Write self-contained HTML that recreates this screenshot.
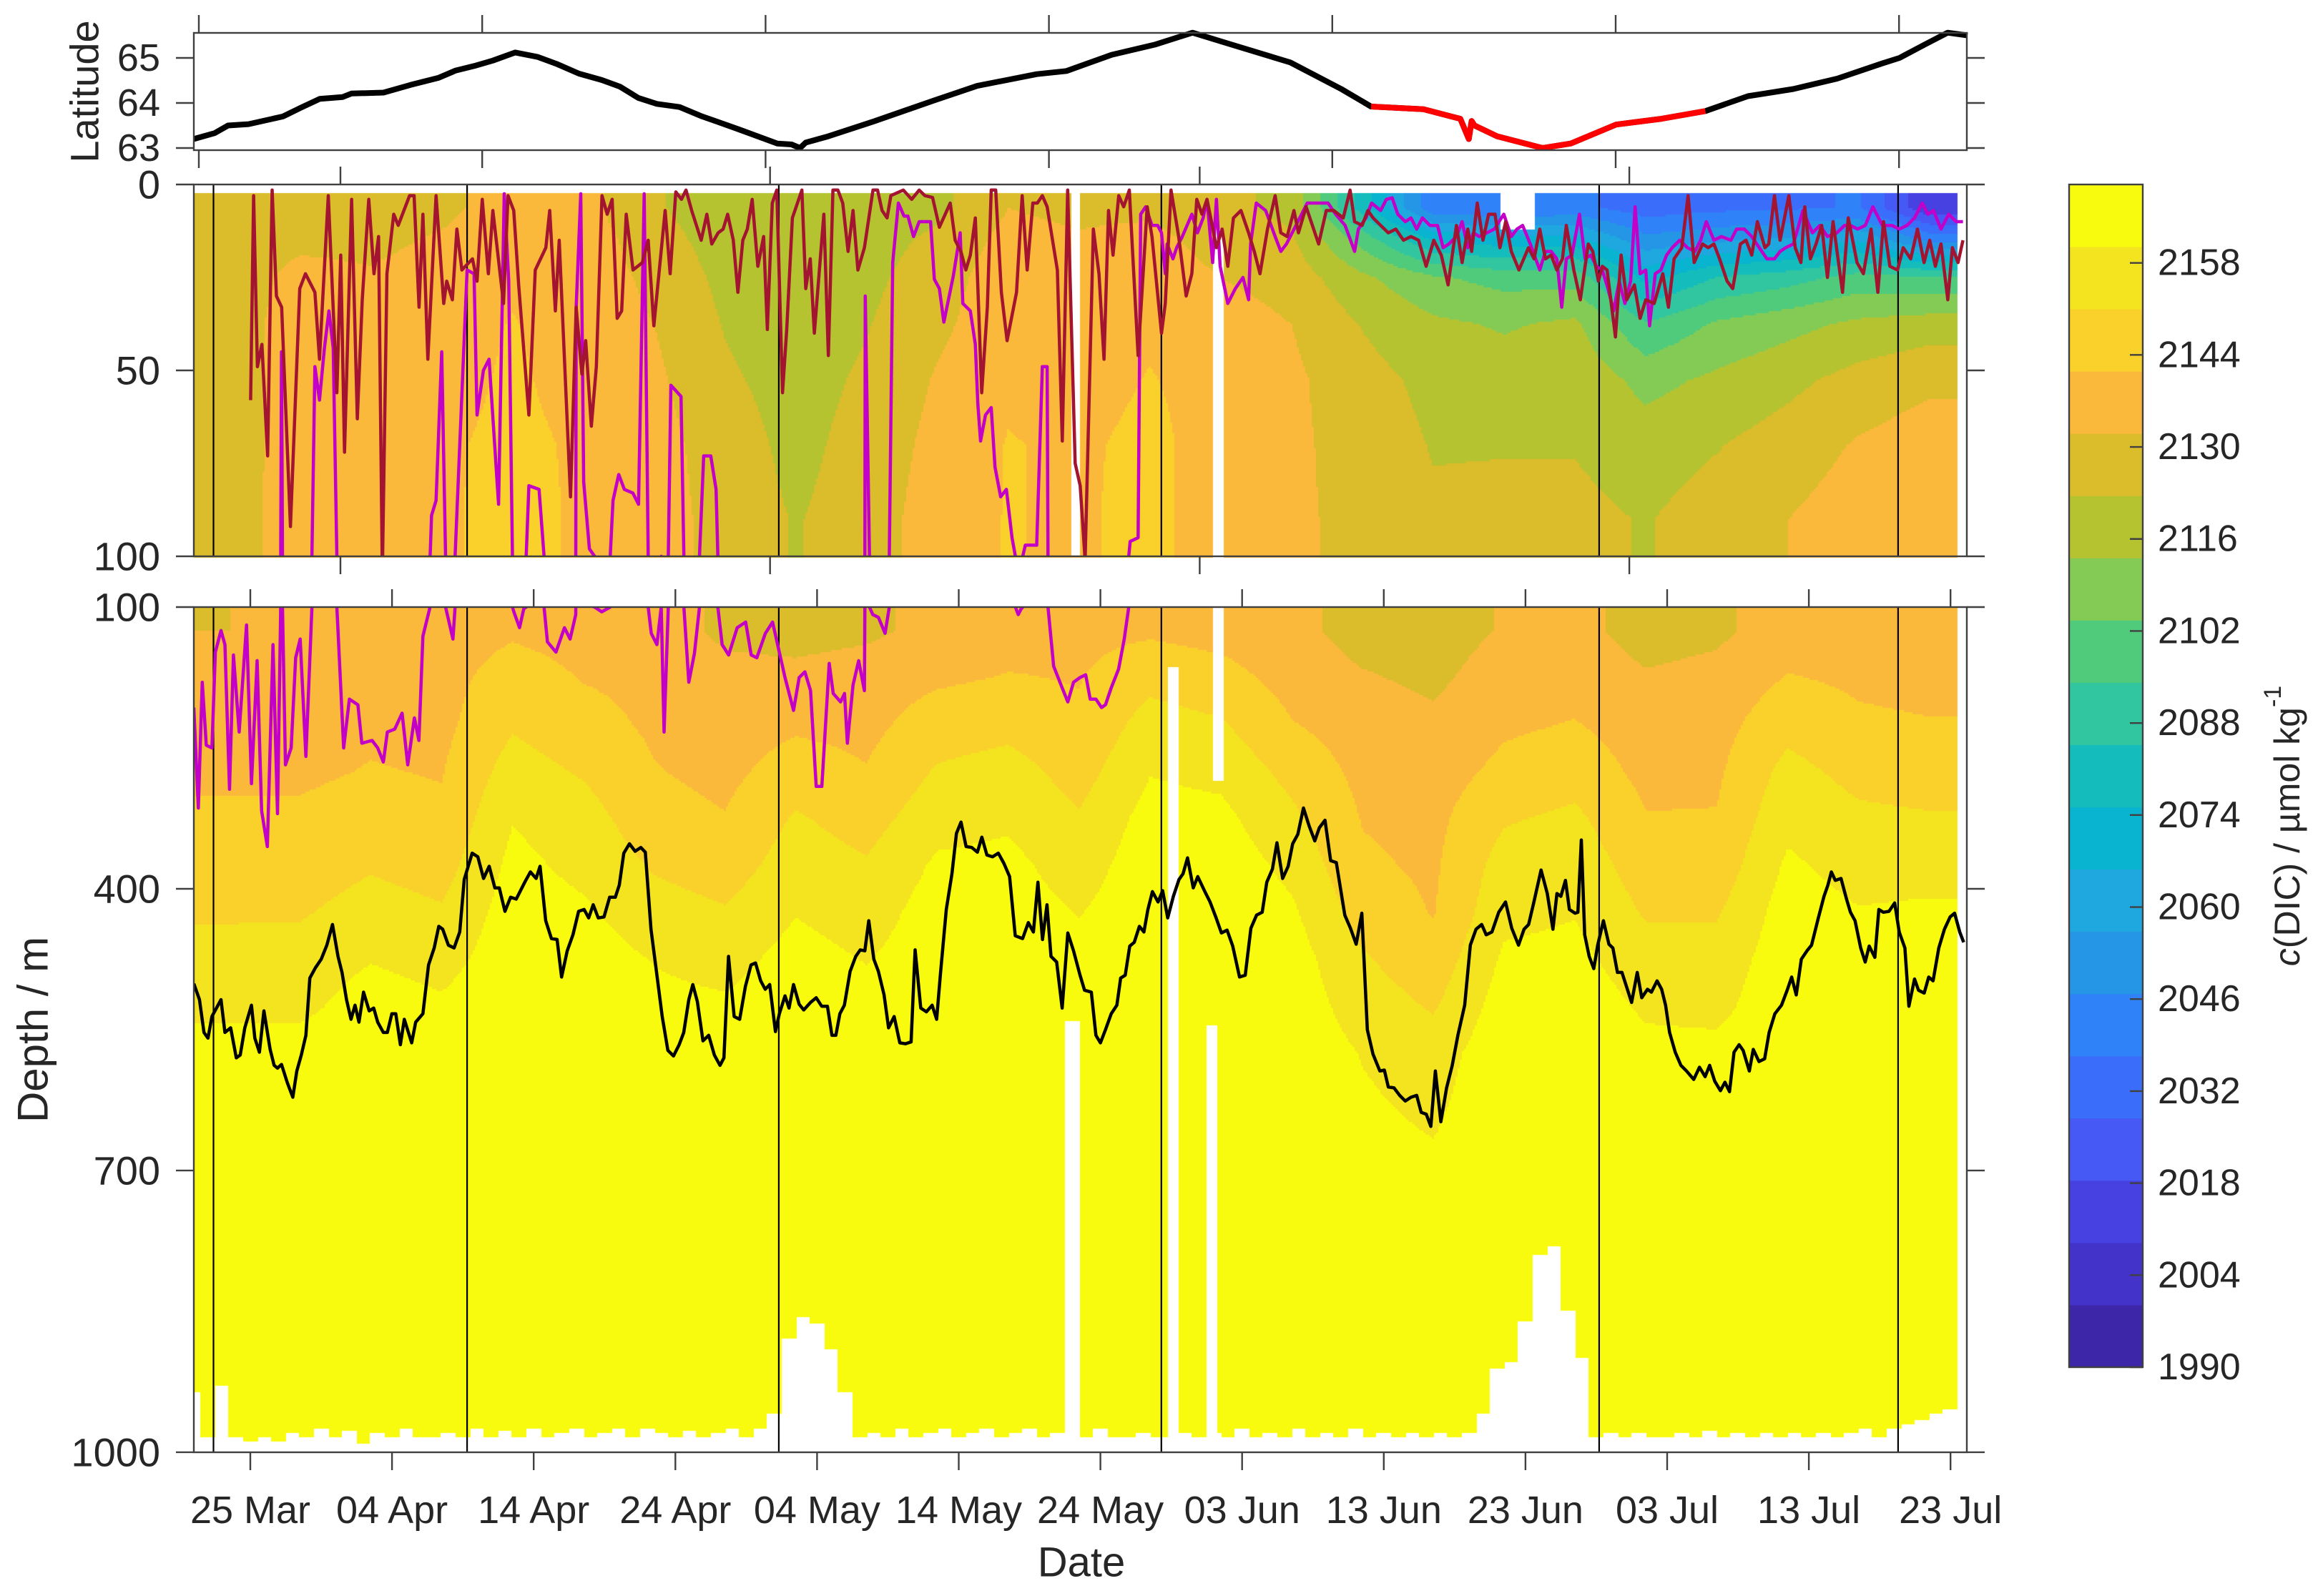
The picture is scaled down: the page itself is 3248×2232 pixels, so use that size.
<!DOCTYPE html>
<html><head><meta charset="utf-8">
<style>
html,body{margin:0;padding:0;background:#fff;}
#wrap{position:relative;width:3248px;height:2232px;overflow:hidden;}
canvas,svg{position:absolute;left:0;top:0;}
text{font-family:"Liberation Sans",Arial,sans-serif;fill:#262626;}
</style></head>
<body>
<div id="wrap">
<canvas id="heat" width="3248" height="2232"></canvas>
<svg id="ov" width="3248" height="2232" xmlns="http://www.w3.org/2000/svg"></svg>
</div>
<script>
// ---------------- DATA ----------------
const dateTickDays=[0,10,20,30,40,50,60,70,80,90,100,110,120];
const dateTickLabels=['25 Mar','04 Apr','14 Apr','24 Apr','04 May','14 May','24 May','03 Jun','13 Jun','23 Jun','03 Jul','13 Jul','23 Jul'];
const latTicks=[63,64,65];
const midDepthTicks=[0,50,100];
const botDepthTicks=[100,400,700,1000];
const cbarTicks=[1990,2004,2018,2032,2046,2060,2074,2088,2102,2116,2130,2144,2158];
const sectionDays=[-2.6,15.3,37.3,64.3,95.2,116.3];

const colStart=-4, colWidth=5; // 25 columns of 5 days
const midRowEdges=[2.5,10,20,30,45,60,80,100];
const midVals=[
[2127,2127,2127,2127,2127,2127,2127],
[2127,2130,2135,2137,2137,2137,2138],
[2128,2130,2133,2135,2137,2137,2137],
[2130,2133,2136,2137,2138,2140,2140],
[2136,2138,2140,2142,2143,2144,2145],
[2135,2137,2137,2137,2138,2140,2140],
[2124,2127,2130,2132,2134,2136,2137],
[2116,2118,2120,2122,2124,2127,2128],
[2114,2116,2118,2118,2119,2120,2122],
[2115,2118,2120,2122,2124,2126,2127],
[2120,2125,2128,2130,2133,2135,2137],
[2132,2135,2137,2138,2140,2142,2142],
[2130,2133,2136,2137,2138,2140,2140],
[2130,2135,2138,2140,2142,2144,2145],
[2125,2128,2132,2137,2138,2137,2135],
[2120,2124,2128,2132,2134,2134,2134],
[2080,2100,2115,2122,2126,2128,2129],
[2040,2075,2105,2115,2120,2122,2124],
[2038,2070,2100,2112,2118,2122,2125],
[2040,2070,2100,2115,2120,2122,2125],
[2032,2050,2072,2095,2110,2118,2122],
[2035,2055,2085,2105,2115,2122,2127],
[2036,2058,2090,2110,2120,2127,2132],
[2038,2065,2098,2115,2126,2133,2137],
[2010,2045,2095,2118,2130,2137,2137]];
const botRowEdges=[100,150,200,250,300,350,400,450,500,550,600,1000];
const botVals=[
[2132,2136,2138,2140,2143,2146,2150,2154,2158,2165,2167],
[2135,2137,2138,2140,2143,2146,2150,2155,2158,2165,2167],
[2137,2138,2140,2142,2145,2150,2155,2160,2165,2166,2167],
[2137,2138,2139,2141,2143,2147,2152,2157,2162,2166,2167],
[2140,2146,2150,2155,2160,2163,2165,2166,2167,2167,2167],
[2138,2141,2145,2150,2155,2158,2162,2165,2166,2167,2167],
[2137,2139,2140,2142,2145,2150,2155,2160,2163,2166,2167],
[2130,2135,2137,2139,2142,2146,2152,2157,2162,2166,2167],
[2128,2135,2140,2146,2152,2156,2160,2164,2166,2167,2167],
[2130,2137,2139,2142,2147,2152,2156,2160,2164,2166,2167],
[2135,2140,2146,2152,2157,2162,2165,2166,2167,2167,2167],
[2138,2142,2148,2155,2159,2163,2165,2166,2167,2167,2167],
[2139,2141,2143,2147,2152,2156,2160,2163,2166,2167,2167],
[2140,2148,2155,2160,2164,2166,2167,2167,2167,2167,2167],
[2138,2145,2152,2158,2163,2166,2167,2167,2167,2167,2167],
[2135,2138,2142,2148,2153,2158,2162,2165,2166,2167,2167],
[2128,2133,2137,2139,2141,2143,2147,2152,2156,2160,2167],
[2127,2130,2134,2137,2139,2140,2141,2145,2150,2156,2167],
[2133,2137,2140,2144,2150,2155,2158,2162,2165,2167,2167],
[2135,2138,2142,2147,2153,2157,2160,2163,2166,2167,2167],
[2128,2133,2137,2139,2142,2146,2150,2155,2159,2163,2167],
[2130,2135,2138,2140,2142,2145,2150,2155,2158,2163,2167],
[2137,2142,2148,2154,2158,2162,2165,2166,2167,2167,2167],
[2138,2140,2143,2148,2153,2157,2161,2164,2166,2167,2167],
[2137,2139,2142,2146,2152,2157,2162,2165,2166,2167,2167]];
const dataEndDay=120.45;
const covStartDay=-4;
const coverageDepth=[935,985,930,985,988,985,988,980,985,975,985,978,990,980,985,975,985,985,980,985,975,985,978,985,975,985,980,975,985,980,975,985,975,980,985,978,985,980,975,985,975,960,880,855,862,890,935,985,980,985,975,985,980,975,985,980,975,985,980,975,985,980,988,985,975,985,985,980,985,985,980,985,980,985,975,985,980,985,975,985,980,985,975,985,980,985,980,985,980,985,980,960,910,905,860,790,780,850,900,985,980,985,980,985,985,980,985,978,985,980,985,980,985,980,985,980,985,980,975,985,975,970,965,960,955];
const gapStart=[57.9,57.5,64.7,67.9,67.5,88.3];
const gapEnd=[58.6,58.56,65.5,68.7,68.3,90.7];
const gapTop=[0,540,165,12,545,0];
const gapBottom=[100,1000,1000,284,1000,12];

const latDays=[-3.99,-2.52,-1.57,-0.12,2.3,3.6,4.9,6.5,7.14,9.4,11.3,13.3,14.5,15.8,17.1,18.7,20.3,21.6,23.2,24.8,26.1,27.4,28.7,30.3,31.9,33.0,34.6,37.2,38.2,38.8,39.2,40.8,44.0,48.2,51.3,55.5,57.6,60.8,63.9,66.5,69.2,73.4,77.0,79.1,82.8,85.4,86.0,86.2,86.4,88.0,91.2,93.2,96.4,99.6,102.7,105.7,108.9,112.0,115.1,116.4,118.2,119.8,121.2];
const latVals=[63.2,63.33,63.5,63.53,63.7,63.9,64.09,64.13,64.21,64.23,64.4,64.56,64.72,64.82,64.94,65.12,65.02,64.87,64.65,64.51,64.36,64.11,63.98,63.91,63.7,63.58,63.4,63.1,63.08,63.0,63.12,63.26,63.59,64.05,64.38,64.64,64.71,65.07,65.3,65.56,65.3,64.9,64.31,63.92,63.86,63.65,63.2,63.6,63.5,63.26,63.0,63.1,63.52,63.65,63.82,64.15,64.31,64.54,64.87,65.0,65.3,65.56,65.5];
const redTrackStart=79.1, redTrackEnd=105.6;

const redDays=[0.02,0.23,0.5,0.82,1.22,1.54,1.84,2.21,2.83,3.49,3.89,4.56,4.88,5.5,6.11,6.38,6.65,7.15,7.55,7.9,8.36,8.73,9.05,9.32,9.64,10.12,10.44,11.24,11.56,11.91,12.18,12.53,13.11,13.65,13.86,14.26,14.58,14.93,15.68,16.0,16.37,16.8,17.12,17.87,18.19,18.59,18.94,19.66,20.11,20.86,21.13,21.53,21.8,22.6,23.0,23.4,23.67,24.07,24.42,24.82,25.19,25.54,25.89,26.21,26.53,27.01,27.67,28.08,28.48,29.28,29.63,30.03,30.43,30.75,31.15,31.82,32.22,32.57,33.02,33.37,33.69,34.09,34.41,34.76,35.08,35.42,35.82,36.23,36.49,36.84,37.16,37.56,
37.86,38.26,38.93,39.2,39.52,39.81,40.48,40.8,41.12,41.47,41.81,42.19,42.54,42.88,43.34,43.95,44.27,44.59,44.94,45.21,46.09,46.68,47.21,47.61,48.15,48.63,49.4,49.75,50.15,50.5,50.82,51.17,51.62,52.02,52.29,52.61,53.01,53.41,54.08,54.48,54.83,55.23,55.55,55.9,56.24,56.96,57.31,57.69,58.22,58.57,58.92,59.5,59.9,60.25,60.57,60.89,61.29,61.64,62.04,62.66,63.3,63.64,64.31,64.58,64.98,65.52,66.05,66.45,66.8,67.17,67.52,67.84,68.19,68.59,68.99,69.39,69.92,70.46,70.86,71.26,71.79,72.33,72.73,73.18,73.66,73.98,74.52,75.05,75.4,75.94,76.47,77.14,77.62,77.94,78.47,78.88,
79.25,79.78,80.32,80.85,81.39,81.92,82.46,82.99,83.53,84.06,84.54,85.13,85.53,85.93,86.2,86.6,87.0,87.4,87.85,88.2,88.6,89.0,89.54,90.21,90.61,91.01,91.41,91.81,92.21,92.61,92.88,93.41,93.87,94.43,94.75,95.15,95.42,95.76,96.35,96.75,97.15,97.69,98.09,98.49,99.08,99.69,100.09,100.49,101.03,101.48,101.91,102.5,102.9,103.3,103.7,104.23,104.63,105.17,105.57,105.97,106.37,106.9,107.17,107.57,107.97,108.59,109.04,109.44,109.71,110.11,110.51,110.91,111.31,111.71,112.38,112.78,113.4,113.85,114.39,114.87,115.27,115.72,116.26,116.66,117.19,117.67,118.13,118.53,118.93,119.33,119.81,120.13,120.53,120.88];
const redDepth=[58,3,49,43,73,1.5,30,33,92,28,24,29,47,3,56,19,72,4,63,31,4,24,14,105,24,8,11,3,3,33,8,47,3,32,26,31,12,23,20,26,4,24,7,32,3,7,27,62,23,17,7,34,15,84,33,51,42,65,49,3,8,4,36,34,8,23,21,15,38,7,24,2,4,1.5,7,15,8,16,13,12,8,15,29,15,12,4,22,14,39,5,1.5,56,
39,9,1.5,28,20,40,8,46,1.5,1.5,5,18,7,23,17,1.5,1.5,7,9,3,1.5,4,1.5,3,3.5,11.5,5,15,18,23,19,9,56,33,1.5,1.5,29,42,29,3,23,5,5,3,6,23,69,1.5,75,81,101,12,24,47,7,19,3,6,1.5,46,6,14,40,32,1.5,14,30,24,4,8,4,10,17,12,22,9,7,13,18,24,12,3,13,14,7,13,6,12,16,7,7,9,1.5,10,11,7,
9,11,13,12,15,14,15,22,15,19,27,11,21,12,18,5,15,8,8,17,10,18,23,17,20,12,20,19,23,20,11,23,31,16,18,26,22,23,41,19,31,27,36,31,32,24,33,20,17,3,21,16,17,16,20,26,28,16,15,19,10,17,16,3,15,3,17,21,6,20,16,11,25,10,29,9,21,24,12,29,10,22,23,17,20,12,21,15,22,16,31,17,21,15];

const magDays=[-3.99,-3.67,-3.39,-3.11,-2.71,-2.47,-2.07,-1.79,-1.47,-1.19,-0.79,-0.27,0.08,0.48,0.8,1.2,1.6,1.92,2.2,2.48,2.88,3.2,3.52,3.92,4.35,4.56,4.88,5.23,5.55,5.85,6.11,6.59,6.99,7.59,7.87,8.59,8.99,9.39,9.67,10.19,10.71,11.11,11.58,11.9,12.18,12.7,12.79,13.11,13.51,13.78,14.3,14.45,15.3,15.79,16.0,16.45,16.85,17.52,17.92,18.24,18.5,18.6,19.0,19.3,19.47,19.66,20.38,20.73,20.97,21.57,22.17,22.57,22.97,23.0,23.32,23.53,23.93,24.3,24.8,25.4,25.6,26.0,26.4,27.0,27.4,27.8,28.08,28.3,28.7,29.0,29.2,29.5,29.68,30.4,30.6,30.95,31.35,31.7,32.0,32.5,32.87,33.0,33.3,33.76,34.36,34.96,35.35,35.75,36.35,36.86,37.35,37.74,38.34,38.74,39.14,39.54,39.94,40.34,40.86,41.14,41.66,41.94,42.14,42.54,42.94,43.34,43.4,43.7,43.93,44.33,44.8,45.1,45.34,45.74,46.14,46.41,46.81,47.21,48.01,48.28,48.63,48.95,49.62,50.1,50.29,50.82,51.17,51.35,51.54,51.89,52.29,52.56,52.96,53.36,53.76,54.0,54.2,54.4,54.7,55.5,55.9,56.24,56.3,56.7,57.3,57.7,58.1,58.56,58.96,59.28,59.68,60.08,60.36,60.76,61.28,61.68,62.0,62.1,62.66,62.84,63.19,63.64,64.04,64.31,64.58,64.71,65.12,65.38,65.78,66.45,66.85,67.25,67.52,67.92,68.19,68.45,68.99,69.52,70.06,70.46,70.6,71.0,71.66,72.33,72.73,73.13,73.8,74.6,75.27,76.07,76.6,77.27,77.94,78.21,78.74,79.14,79.78,80.18,80.59,80.99,81.52,81.92,82.32,82.72,83.26,83.79,84.19,84.59,85.13,85.53,85.93,86.33,86.73,87.27,87.8,88.47,89.0,89.4,89.8,90.34,91.01,91.41,91.81,92.21,92.56,92.88,93.28,93.81,94.21,94.61,95.01,95.42,95.82,96.22,96.62,97.02,97.42,97.74,98.09,98.49,98.76,99.16,99.56,99.96,100.36,100.89,101.43,101.96,102.36,102.76,103.3,103.83,104.5,104.9,105.44,105.97,106.5,107.04,107.57,107.97,108.37,108.91,109.58,110.25,110.78,111.31,111.98,112.52,112.92,113.45,113.99,114.52,115.19,115.86,116.39,116.93,117.46,118.0,118.4,118.8,119.33,119.87,120.4,120.88];
const magDepth=[207,314,180,247,250,148,125,140,294,151,233,119,288,157,317,355,140,320,45,268,250,154,134,259,99,49,58,44,34,44,100,250,198,204,245,242,250,265,233,230,213,268,218,242,131,99,89,85,45,100,134,100,23,24,62,50,47,86,2.5,26,100,105,122,102,100,81,82,100,137,148,122,134,108,33,2.5,80,98,100,105,100,85,78,82,83,86,2.5,100,128,140,100,233,100,54,57,100,180,149,100,73,73,82,100,140,151,122,116,151,154,128,116,149,175,210,175,169,189,291,291,160,192,201,192,245,183,157,189,30,100,108,111,128,100,21,5,8.5,8.5,14,10,10,25.5,28,37,24.5,13,32,34,43,59,69,62,60,76,84,82,95,100,108,102,97,97,49,49,100,163,186,201,180,175,172,198,198,207,204,186,166,134,100,96,95,8,6,11,11,13,24,16,20,17,14,8,13,9,4,21,4,22,32,28,25,31,16,5,7,14,18,16,11,5,5,5,8,11,18,12,9,5,7,4,3.6,8,10,9,12,9,11,11,17,16,14,10,17,13,14,13,12,8,14,12,11,16,23,18,18,20,33,20,19,8,20,19,22,23,28,34,26,32,26,6,24,23,38,24,23,19,17,15,17,18,15,10,15,14,15,12,12,14,17,20,20,18,17,16,7,13,11,14,13,11,11,12,11,6,11,11,12,11,9,5,8,7,12,8,10,10];

const blkDays=[-3.99,-3.59,-3.27,-2.99,-2.71,-2.07,-1.79,-1.39,-0.99,-0.71,-0.39,0.08,0.32,0.64,0.96,1.4,1.68,1.92,2.2,2.6,3.0,3.28,3.6,3.92,4.2,4.6,5.0,5.4,5.8,6.19,6.47,6.79,7.11,7.39,7.67,7.99,8.39,8.71,8.99,9.39,9.67,9.99,10.27,10.59,10.87,11.39,11.67,12.18,12.58,12.98,13.3,13.58,13.98,14.38,14.78,15.1,15.66,16.06,16.46,16.86,17.26,17.57,17.97,18.37,18.77,19.37,19.77,20.17,20.45,20.85,21.25,21.65,21.97,22.37,22.77,23.17,23.56,23.88,24.2,24.56,24.96,25.36,25.76,26.04,26.36,26.76,27.16,27.56,27.88,28.28,28.67,29.07,29.47,29.87,30.27,30.59,30.95,31.23,31.55,31.95,32.35,32.75,33.15,33.43,33.75,34.15,34.54,34.94,35.34,35.66,36.02,36.34,36.66,37.06,37.34,37.74,38.02,38.34,38.74,39.06,39.54,39.94,40.33,40.73,41.05,41.33,41.61,41.93,42.33,42.73,43.05,43.37,43.65,44.01,44.33,44.73,45.05,45.44,45.84,46.24,46.64,46.92,47.32,47.72,48.12,48.44,48.72,49.12,49.52,49.84,50.16,50.52,50.92,51.32,51.63,51.99,52.39,52.79,53.19,53.59,53.99,54.51,54.91,55.27,55.59,55.91,56.23,56.51,56.91,57.3,57.7,58.1,58.56,58.88,59.36,59.68,60.0,60.36,60.76,61.16,61.43,61.75,62.07,62.39,62.75,63.07,63.35,63.67,64.07,64.39,64.75,65.15,65.55,65.83,66.15,66.55,66.87,67.34,67.74,68.14,68.54,68.94,69.34,69.82,70.22,70.62,71.02,71.42,71.74,72.14,72.46,72.86,73.25,73.57,73.93,74.33,74.73,75.13,75.45,75.85,76.25,76.65,77.25,77.65,78.05,78.45,78.84,79.24,79.72,80.04,80.32,80.72,81.12,81.52,81.92,82.32,82.64,83.0,83.32,83.64,84.03,84.43,84.83,85.23,85.71,86.11,86.51,86.91,87.23,87.63,88.11,88.59,89.03,89.51,89.9,90.22,90.58,91.1,91.54,91.94,92.22,92.5,92.82,93.1,93.5,93.7,93.94,94.18,94.5,94.82,95.1,95.5,95.89,96.17,96.49,96.81,97.13,97.49,97.89,98.21,98.61,98.89,99.29,99.61,99.89,100.17,100.57,100.97,101.37,101.88,102.28,102.68,103.0,103.36,103.76,104.08,104.4,104.72,105.08,105.36,105.8,106.08,106.48,106.88,107.2,107.6,108.07,108.47,108.79,109.11,109.47,109.87,110.19,110.67,111.07,111.35,111.59,111.87,112.27,112.66,112.94,113.26,113.66,113.98,114.26,114.66,114.94,115.26,115.66,116.06,116.38,116.78,117.06,117.46,117.74,118.14,118.46,118.77,119.17,119.57,119.97,120.29,120.65,120.93];
const blkDepth=[501,518,553,559,536,518,553,548,580,577,548,524,559,574,530,571,588,591,587,606,622,594,577,556,495,484,475,460,438,472,489,518,539,524,542,510,530,527,542,553,553,533,533,566,539,564,542,533,481,463,440,443,460,463,446,390,362,366,389,376,399,399,424,409,411,393,382,389,376,434,453,454,494,466,449,424,422,431,417,431,430,409,409,396,362,352,360,356,361,443,489,536,572,578,566,553,518,502,520,562,556,577,588,580,472,536,539,504,481,479,498,507,502,552,533,514,527,502,523,529,521,516,525,525,556,556,533,524,488,472,465,466,434,475,488,513,548,536,564,565,563,465,527,531,524,539,489,422,384,341,329,355,356,361,345,364,366,362,373,387,450,453,436,446,393,454,417,472,478,527,447,466,492,508,510,556,564,550,533,524,495,492,461,457,440,446,422,403,414,402,431,408,390,384,367,399,387,402,414,430,447,444,461,494,492,442,428,425,393,379,351,389,376,352,342,314,333,349,335,327,370,372,428,442,459,426,550,576,594,593,611,612,620,626,622,620,638,640,653,594,648,612,588,556,524,460,443,438,449,446,425,414,442,460,443,438,415,380,405,443,405,408,391,422,426,425,348,449,472,485,460,434,459,463,489,489,504,521,489,516,507,510,498,507,524,553,574,588,594,603,590,600,588,605,615,606,616,574,566,572,594,571,584,581,553,533,524,508,494,513,475,466,460,431,408,396,382,391,389,411,425,434,463,478,461,473,422,425,424,415,446,463,525,496,508,511,494,498,463,443,430,426,446,457];

// colour scale: 19 contour bands from 1990 to ~2170
const cmin=1990, cstep=9.47;
const bandColors=['#3d26a8','#4333c9','#4641e0','#4659f5','#3b6dfb','#2f82f8','#2595e6','#1ea8df','#08b4cf','#14bdbb','#32c6a0','#50cb7b','#84cb56','#b5c331','#dbbc2a','#fbb93c','#fad12b','#f4e41f','#f9fb0e'];

// ---------------- GEOMETRY ----------------
const PL=271, PR=2750;
const xDay=d=>350+d*19.81;
const latTop=46, latBot=210;
const yLat=v=>207-(v-63)*63;
const midTop=258, midBot=778;
const yMid=d=>midTop+d*5.2;
const botTop=849, botBot=2031;
const yBot=d=>botTop+(d-100)*1.3133;
const CB={x:2893,w:103,top:258,bot:1912};
const yCb=v=>CB.bot-(v-cmin)*(CB.bot-CB.top)/(19*cstep);

function bandIdx(v){let k=Math.floor((v-cmin)/cstep);return Math.max(0,Math.min(18,k));}
function centers(e){const c=[];for(let i=0;i<e.length-1;i++)c.push((e[i]+e[i+1])/2);return c;}
function interp1(cs,x){
  if(x<=cs[0])return[0,0,0];if(x>=cs[cs.length-1])return[cs.length-1,cs.length-1,0];
  for(let i=0;i<cs.length-1;i++){if(x<=cs[i+1]){return[i,i+1,(x-cs[i])/(cs[i+1]-cs[i])];}}
  return[cs.length-1,cs.length-1,0];
}
const colCenters=midVals.map((_,i)=>colStart+colWidth*(i+0.5));
function val(grid,rowC,day,depth){
  const [a0,a1,ta]=interp1(colCenters,day);const [b0,b1,tb]=interp1(rowC,depth);
  const v00=grid[a0][b0],v01=grid[a0][b1],v10=grid[a1][b0],v11=grid[a1][b1];
  return (v00*(1-tb)+v01*tb)*(1-ta)+(v10*(1-tb)+v11*tb)*ta;
}
function inGap(day,depth){for(let i=0;i<gapStart.length;i++){if(day>=gapStart[i]&&day<=gapEnd[i]&&depth>=gapTop[i]&&depth<=gapBottom[i])return true;}return false;}
function covAt(day){const i=Math.round(day-covStartDay);return coverageDepth[Math.max(0,Math.min(coverageDepth.length-1,i))];}

// ---------------- HEATMAP (canvas) ----------------
const ctx=document.getElementById('heat').getContext('2d');
const midC=centers(midRowEdges), botC=centers(botRowEdges);
const step=3;
for(let px=PL;px<PR;px+=step){
  const day=(px+step/2-350)/19.81;
  if(day<colStart||day>dataEndDay)continue;
  for(let py=midTop;py<midBot;py+=step){
    const depth=(py+step/2-midTop)/5.2;
    if(depth<midRowEdges[0]||inGap(day,depth))continue;
    ctx.fillStyle=bandColors[bandIdx(val(midVals,midC,day,depth))];
    ctx.fillRect(px,py,step,step);
  }
  const cov=covAt(day);
  for(let py=botTop;py<botBot;py+=step){
    const depth=100+(py+step/2-botTop)/1.3133;
    if(depth>cov||inGap(day,depth))continue;
    ctx.fillStyle=bandColors[bandIdx(val(botVals,botC,day,depth))];
    ctx.fillRect(px,py,step,step);
  }
}

// ---------------- SVG OVERLAY ----------------
const NS='http://www.w3.org/2000/svg';
const svg=document.getElementById('ov');
function mk(tag,attrs,parent){const e=document.createElementNS(NS,tag);for(const k in attrs)e.setAttribute(k,attrs[k]);(parent||svg).appendChild(e);return e;}
const defs=mk('defs',{});
const cpM=mk('clipPath',{id:'clipMid'},defs);mk('rect',{x:PL,y:midTop,width:PR-PL,height:midBot-midTop},cpM);
const cpB=mk('clipPath',{id:'clipBot'},defs);mk('rect',{x:PL,y:botTop,width:PR-PL,height:botBot-botTop},cpB);

for(const d of sectionDays){
  const l1=mk('line',{x1:xDay(d),x2:xDay(d),y1:midTop,y2:midBot,stroke:'#000','stroke-width':2.2});
  
  
  const l2=mk('line',{x1:xDay(d),x2:xDay(d),y1:botTop,y2:botBot,stroke:'#000','stroke-width':2.2});
  
  
}
function pts(days,vals,yf){return days.map((d,i)=>xDay(d).toFixed(1)+','+yf(vals[i]).toFixed(1)).join(' ');}
const gM=mk('g',{'clip-path':'url(#clipMid)'});


const magM=mk('polyline',{points:pts(magDays,magDepth,yMid),fill:'none',stroke:'#c300c8','stroke-width':4.5,'stroke-linejoin':'round'},gM);


const red=mk('polyline',{points:pts(redDays,redDepth,yMid),fill:'none',stroke:'#a2142f','stroke-width':4.5,'stroke-linejoin':'round'},gM);


const gB=mk('g',{'clip-path':'url(#clipBot)'});


const magB=mk('polyline',{points:pts(magDays,magDepth,yBot),fill:'none',stroke:'#c300c8','stroke-width':4.5,'stroke-linejoin':'round'},gB);


const blk=mk('polyline',{points:pts(blkDays,blkDepth,yBot),fill:'none',stroke:'#000','stroke-width':4.5,'stroke-linejoin':'round'},gB);



const latLine=mk('polyline',{points:pts(latDays,latVals,yLat),fill:'none',stroke:'#000','stroke-width':8,'stroke-linejoin':'round'});


const rd=[],rv=[];latDays.forEach((d,i)=>{if(d>=redTrackStart&&d<=redTrackEnd){rd.push(d);rv.push(latVals[i]);}});
const latRed=mk('polyline',{points:pts(rd,rv,yLat),fill:'none',stroke:'#ff0000','stroke-width':8,'stroke-linejoin':'round'});



function box(y0,y1,name){const r=mk('rect',{x:PL,y:y0,width:PR-PL,height:y1-y0,fill:'none',stroke:'#404040','stroke-width':2.4});}
box(latTop,latBot,'latitude-axes-box');box(midTop,midBot,'upper-depth-axes-box');box(botTop,botBot,'deep-depth-axes-box');
const TL=25;
function tick(x1,y1,x2,y2){mk('line',{x1,y1,x2,y2,stroke:'#404040','stroke-width':2.4});}
function txt(s,x,y,size,anchor,name,extra){const t=mk('text',Object.assign({x,y,'font-size':size,'text-anchor':anchor,'dominant-baseline':'central'},extra||{}));t.textContent=s;return t;}
for(let k=0;k<=6;k++){const x=278+k*396.2;tick(x,latTop,x,latTop-TL);tick(x,latBot,x,latBot+TL);}
for(let k=0;k<=3;k++){const x=476+k*600.7;tick(x,midTop,x,midTop-TL);tick(x,midBot,x,midBot+TL);}
dateTickDays.forEach((d,i)=>{const x=xDay(d);tick(x,botTop,x,botTop-TL);tick(x,botBot,x,botBot+TL);
  txt(dateTickLabels[i],x,2112,54,'middle','date-tick-label');});
latTicks.forEach(v=>{const y=yLat(v);tick(PL,y,PL-TL,y);tick(PR,y,PR+TL,y);txt(String(v),224,y,54,'end','latitude-tick-label');});
midDepthTicks.forEach(v=>{const y=yMid(v);tick(PL,y,PL-TL,y);tick(PR,y,PR+TL,y);txt(String(v),224,y,56,'end','upper-depth-tick-label');});
botDepthTicks.forEach(v=>{const y=yBot(v);tick(PL,y,PL-TL,y);tick(PR,y,PR+TL,y);txt(String(v),224,y,56,'end','deep-depth-tick-label');});
txt('Latitude',118,128,56,'middle','latitude-axis-title',{transform:'rotate(-90 118 128)'});
txt('Depth / m',46,1440,60,'middle','depth-axis-title',{transform:'rotate(-90 46 1440)'});
txt('Date',1512,2185,58,'middle','date-axis-title');

bandColors.forEach((c,k)=>{const y0=yCb(cmin+(k+1)*cstep),y1=yCb(cmin+k*cstep);
  const r=mk('rect',{x:CB.x,y:y0,width:CB.w,height:y1-y0+0.5,fill:c});
  
  });
const cbb=mk('rect',{x:CB.x,y:CB.top,width:CB.w,height:CB.bot-CB.top,fill:'none',stroke:'#404040','stroke-width':2.4});

cbarTicks.forEach(v=>{const y=yCb(v);tick(CB.x+CB.w,y,CB.x+CB.w-18,y);txt(String(v),3017,y,52,'start','colorbar-tick-label');});
const cl=mk('text',{x:0,y:0,'font-size':50,'text-anchor':'middle','dominant-baseline':'central',transform:'translate(3198 1155) rotate(-90)'});

const t1=mk('tspan',{'font-style':'italic'},cl);t1.textContent='c';
const t2=mk('tspan',{},cl);t2.textContent='(DIC) / µmol kg';
const t3=mk('tspan',{'font-size':34,dy:-20},cl);t3.textContent='-1';
</script>
</body></html>
